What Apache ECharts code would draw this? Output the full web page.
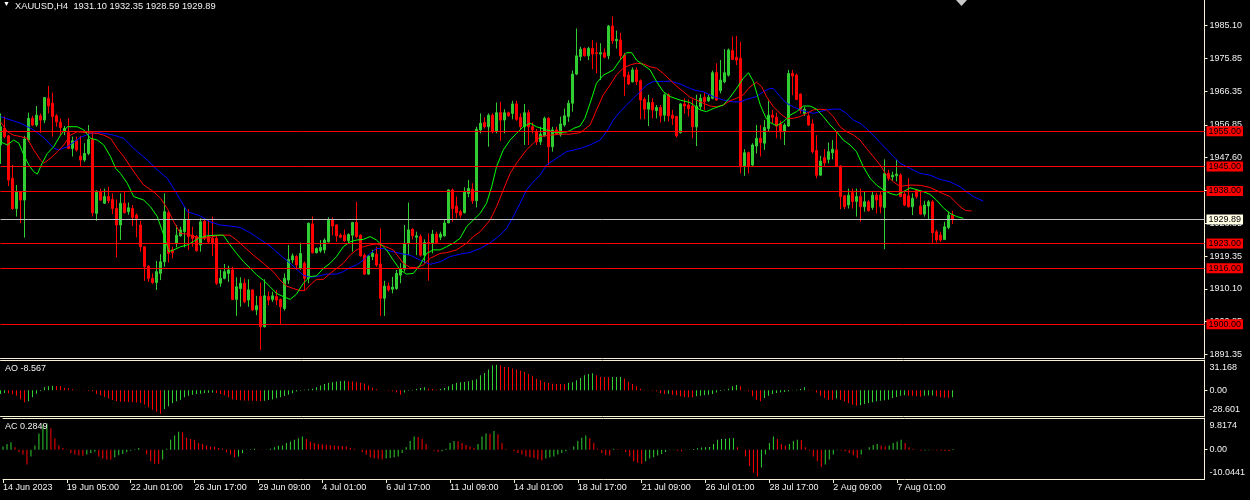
<!DOCTYPE html>
<html>
<head>
<meta charset="utf-8">
<script src="https://cdn.jsdelivr.net/npm/echarts@6/dist/echarts.min.js"></script>
<style>
html,body{margin:0;padding:0;background:#000;}
#c{width:1250px;height:500px;}
</style>
</head>
<body>
<div id="c"></div>
<script>
const symbolName = 'XAUUSD,H4';

const xTickLabels = ['14 Jun 2023','19 Jun 05:00','22 Jun 01:00','26 Jun 17:00','29 Jun 09:00','4 Jul 01:00','6 Jul 17:00','11 Jul 09:00','14 Jul 01:00','18 Jul 17:00','21 Jul 09:00','26 Jul 01:00','28 Jul 17:00','2 Aug 09:00','7 Aug 01:00'];

const priceTicks = [1891.35,1900.85,1910.10,1919.35,1928.85,1938.10,1947.60,1956.85,1966.35,1975.85,1985.10];

const levelLines = [1955.00,1945.00,1938.00,1923.00,1916.00,1900.00];

const opens = [1951.1,1955.9,1953.7,1941.6,1933.0,1937.8,1935.4,1952.5,1958.7,1956.8,1959.4,1958.2,1964.4,1963.0,1959.4,1957.6,1954.9,1954.6,1950.1,1952.3,
1947.9,1946.8,1948.7,1952.7,1931.6,1937.8,1934.5,1936.4,1935.6,1933.0,1928.3,1934.5,1932.1,1933.0,1931.1,1928.3,1922.1,1916.6,1913.1,1911.9,
1914.5,1917.8,1931.8,1921.2,1923.1,1925.2,1926.4,1929.9,1925.4,1925.0,1922.6,1929.4,1925.0,1924.5,1924.5,1911.7,1913.1,1914.5,1915.5,1907.1,
1910.2,1911.7,1906.9,1909.8,1904.1,1907.9,1899.3,1907.9,1907.1,1907.9,1907.1,1904.5,1912.6,1918.3,1919.3,1916.0,1917.4,1913.1,1928.6,1920.4,
1920.9,1921.2,1923.5,1929.7,1928.3,1925.4,1925.4,1923.8,1925.4,1929.0,1925.4,1919.7,1914.3,1919.3,1920.0,1917.2,1907.4,1910.9,1910.0,1910.2,
1914.0,1915.7,1923.1,1927.1,1924.8,1925.0,1919.7,1923.3,1923.1,1925.7,1924.8,1925.2,1928.9,1938.3,1933.7,1932.1,1931.8,1937.3,1938.5,1935.2,
1955.4,1957.5,1956.3,1959.6,1954.9,1960.3,1958.2,1960.3,1960.1,1962.8,1959.0,1956.3,1960.3,1956.3,1955.0,1952.0,1953.7,1958.7,1950.6,1955.4,
1954.0,1956.8,1959.2,1963.0,1971.3,1976.3,1978.6,1976.5,1978.6,1977.4,1977.0,1977.4,1976.5,1985.0,1980.8,1981.0,1976.7,1971.0,1969.1,1972.5,
1969.4,1964.1,1961.3,1963.2,1960.9,1961.8,1959.6,1965.4,1959.6,1959.2,1954.6,1962.8,1962.5,1962.2,1956.3,1962.0,1964.7,1963.7,1964.4,1971.7,
1966.6,1969.1,1971.0,1978.0,1976.1,1975.8,1945.1,1948.9,1945.4,1950.8,1953.0,1951.6,1955.8,1959.6,1959.0,1957.1,1954.9,1956.5,1971.5,1971.0,
1965.6,1960.1,1959.4,1957.1,1949.5,1942.5,1947.5,1947.0,1948.9,1949.7,1945.1,1936.6,1934.0,1937.5,1935.0,1936.4,1933.5,1934.9,1933.3,1936.8,
1936.8,1933.3,1943.0,1942.0,1942.3,1942.5,1937.1,1936.6,1933.5,1938.2,1933.7,1931.4,1933.7,1934.9,1926.4,1925.4,1924.2,1927.6,1931.10];

const highs = [1960.1,1959.2,1954.0,1945.4,1939.7,1938.0,1953.7,1960.3,1959.4,1962.2,1960.1,1964.7,1967.9,1966.0,1959.9,1958.7,1956.5,1958.7,1953.5,1953.5,
1953.7,1951.6,1956.8,1954.9,1938.2,1938.7,1938.7,1939.2,1937.3,1935.6,1937.3,1937.8,1934.7,1934.0,1931.6,1929.5,1922.3,1916.8,1914.5,1918.1,
1920.0,1937.3,1932.1,1922.1,1928.3,1927.8,1933.5,1932.8,1927.8,1925.4,1930.2,1929.9,1929.7,1930.7,1925.4,1915.6,1917.2,1916.7,1916.4,1913.4,
1913.4,1913.1,1912.8,1910.0,1908.1,1911.9,1912.8,1909.3,1909.3,1909.8,1907.3,1914.5,1922.6,1920.2,1919.7,1923.3,1917.9,1929.0,1930.8,1921.9,
1924.0,1924.5,1930.5,1930.5,1928.5,1925.9,1927.0,1925.9,1929.2,1934.9,1925.7,1920.2,1919.7,1921.2,1922.1,1927.3,1912.4,1911.9,1913.5,1915.5,
1917.4,1928.3,1934.7,1927.4,1926.4,1925.7,1924.2,1925.9,1926.9,1926.4,1926.4,1929.7,1938.5,1938.7,1936.4,1932.6,1939.0,1941.1,1940.2,1956.3,
1960.1,1959.0,1960.1,1960.1,1963.2,1963.4,1961.3,1960.6,1963.7,1963.7,1960.1,1962.8,1961.1,1957.5,1955.6,1956.3,1959.2,1959.0,1956.3,1956.3,
1959.2,1961.5,1963.9,1972.3,1984.3,1979.1,1978.9,1979.1,1981.0,1980.3,1980.1,1978.6,1985.3,1987.7,1983.7,1983.1,1977.4,1972.0,1973.2,1973.2,
1969.8,1964.7,1965.4,1964.4,1962.5,1962.5,1965.8,1965.8,1961.1,1959.4,1963.0,1964.4,1964.1,1964.1,1965.4,1965.6,1966.0,1965.4,1972.3,1974.4,
1975.3,1978.4,1978.6,1982.0,1982.2,1980.5,1949.9,1949.2,1951.6,1956.8,1956.8,1958.2,1963.7,1961.1,1960.3,1958.0,1957.3,1972.5,1972.5,1971.5,
1965.8,1962.0,1960.1,1958.4,1953.9,1948.0,1949.9,1951.8,1952.5,1954.9,1945.3,1936.8,1938.7,1938.7,1938.7,1938.7,1937.8,1935.4,1937.8,1937.5,
1937.8,1947.0,1944.0,1943.5,1947.0,1943.0,1937.8,1941.6,1937.3,1938.6,1937.8,1935.2,1935.4,1935.4,1926.9,1926.4,1929.2,1932.1,1932.35];

const lows = [1945.7,1953.0,1939.4,1932.6,1930.7,1928.8,1924.7,1952.0,1956.5,1956.3,1954.6,1957.3,1960.1,1953.5,1956.3,1953.9,1953.9,1949.9,1947.8,1949.2,
1945.1,1946.3,1948.2,1930.7,1929.5,1935.2,1934.3,1934.5,1931.4,1919.1,1924.0,1931.6,1931.2,1928.0,1924.8,1920.7,1912.4,1912.1,1911.5,1909.8,
1912.6,1916.4,1917.6,1918.8,1921.9,1925.0,1921.9,1921.2,1922.1,1920.7,1920.7,1924.0,1923.1,1919.5,1911.2,1910.7,1912.8,1912.1,1906.9,1902.4,
1905.0,1906.0,1905.0,1903.9,1902.6,1892.7,1899.1,1905.5,1906.4,1905.5,1900.1,1903.9,1911.5,1917.4,1915.5,1915.5,1909.8,1911.7,1920.2,1920.2,
1920.4,1920.2,1923.3,1925.4,1923.5,1924.5,1923.5,1923.1,1920.7,1924.5,1919.3,1914.1,1914.1,1918.3,1916.4,1902.4,1902.4,1909.3,1908.8,1909.8,
1911.7,1915.0,1919.7,1924.2,1919.7,1919.3,1917.4,1912.4,1920.2,1923.1,1924.0,1925.0,1928.8,1929.2,1930.2,1930.2,1931.6,1936.2,1934.3,1933.3,
1954.4,1955.8,1950.6,1954.4,1954.4,1952.3,1954.4,1959.2,1958.4,1958.0,1955.6,1951.1,1951.1,1954.4,1951.1,1951.1,1953.5,1945.4,1949.2,1953.9,
1953.5,1956.3,1957.7,1960.6,1971.0,1975.1,1976.3,1975.3,1972.7,1971.5,1969.6,1975.8,1975.5,1979.9,1978.6,1975.5,1965.1,1968.2,1968.9,1968.2,
1958.4,1958.4,1956.5,1958.7,1958.7,1957.5,1957.8,1957.8,1956.8,1953.3,1954.4,1960.1,1959.2,1953.0,1950.8,1961.1,1961.1,1963.4,1964.1,1963.7,
1965.8,1968.7,1970.6,1975.3,1973.9,1943.0,1942.3,1943.0,1944.9,1948.7,1947.8,1949.7,1954.9,1957.3,1953.0,1952.7,1951.1,1956.3,1965.3,1963.9,
1960.1,1959.4,1956.5,1948.7,1941.6,1942.3,1945.1,1945.9,1947.0,1944.9,1932.8,1932.8,1933.0,1933.0,1930.7,1929.2,1932.1,1932.1,1932.6,1931.6,
1931.6,1921.4,1940.9,1940.9,1940.7,1936.2,1933.7,1933.3,1931.1,1935.8,1931.1,1930.7,1929.9,1922.9,1923.3,1923.5,1924.0,1927.1,1928.59];

const closes = [1956.3,1953.5,1941.1,1933.0,1937.8,1935.4,1952.8,1958.7,1956.8,1959.6,1958.2,1964.6,1962.2,1959.2,1957.7,1956.1,1955.8,1950.1,1952.3,1949.7,
1946.8,1948.7,1952.7,1931.8,1938.0,1935.4,1936.4,1935.2,1933.0,1928.3,1934.5,1931.8,1933.2,1930.5,1930.2,1922.1,1916.4,1913.1,1911.9,1915.0,
1917.8,1932.1,1920.2,1920.4,1925.4,1926.9,1929.9,1925.0,1924.5,1921.0,1929.2,1924.5,1923.5,1923.1,1911.7,1913.1,1915.0,1915.5,1907.1,1910.7,
1911.7,1906.4,1909.8,1904.1,1905.3,1899.3,1908.1,1906.9,1908.1,1906.9,1905.0,1913.1,1918.5,1919.5,1916.9,1920.2,1913.1,1928.8,1920.4,1921.6,
1921.9,1924.0,1929.7,1928.0,1925.2,1924.8,1923.8,1925.6,1929.0,1925.0,1919.5,1914.3,1919.5,1920.2,1916.9,1907.4,1910.9,1909.8,1910.6,1914.5,
1915.9,1923.1,1926.9,1925.2,1925.2,1919.7,1923.3,1923.1,1925.7,1923.3,1925.7,1928.9,1938.3,1933.0,1931.8,1931.1,1937.8,1938.7,1935.2,1955.6,
1957.3,1956.3,1959.6,1954.9,1960.3,1958.2,1960.3,1959.4,1962.8,1958.4,1956.3,1960.3,1956.3,1955.4,1952.0,1954.2,1958.7,1950.6,1955.4,1954.2,
1957.1,1959.4,1963.0,1971.3,1976.5,1978.4,1976.5,1978.6,1977.0,1977.2,1977.4,1976.1,1985.0,1980.8,1981.2,1976.5,1970.6,1968.5,1972.5,1969.1,
1963.9,1961.3,1963.2,1961.1,1961.8,1959.4,1965.4,1959.4,1958.7,1953.7,1962.8,1962.2,1961.5,1956.3,1962.2,1964.4,1963.4,1964.7,1971.7,1963.9,
1969.6,1971.7,1978.2,1975.5,1975.3,1944.9,1948.9,1945.1,1951.1,1953.0,1951.8,1956.1,1959.6,1959.0,1956.5,1954.9,1956.8,1971.5,1970.8,1964.1,
1960.9,1961.3,1956.8,1949.2,1942.5,1946.5,1946.0,1949.2,1949.9,1945.1,1936.4,1933.5,1936.8,1935.0,1936.4,1933.5,1934.9,1932.4,1936.8,1935.4,
1933.5,1943.0,1941.6,1942.5,1942.8,1936.4,1934.0,1933.5,1935.9,1936.4,1931.4,1934.0,1934.9,1926.1,1924.0,1924.0,1927.8,1931.1,1929.89];

// Alligator lines: [bar position, price]
const jawBlue = [[0,1959.2],[5,1957.3],[8.3,1955.4],[11,1953.0],[13.3,1950.2],[14.6,1949.7],[16.7,1950.6],[20,1953.3],[22.5,1954.4],[25,1954.6],[28.3,1953.9],[30.8,1953.0],[33.3,1950.1],[36.7,1946.8],[39.2,1944.0],[41.7,1941.6],[43.3,1938.7],[45,1935.4],[46.7,1932.1],[49.9,1930.9],[52.4,1929.2],[54.9,1928.3],[57.4,1928.0],[59.9,1927.6],[62.4,1926.1],[64.9,1924.2],[67.4,1922.3],[69.9,1919.7],[72.4,1917.4],[74,1915.7],[75.7,1914.0],[77.4,1913.4],[79,1913.6],[81.5,1914.3],[84,1914.3],[85.7,1915.0],[87.4,1916.2],[89,1916.9],[90.7,1918.3],[92.4,1920.2],[94,1921.6],[95.7,1921.6],[97.4,1920.9],[99.9,1920.2],[102.4,1919.7],[104.9,1918.3],[107.4,1917.1],[109.9,1917.8],[112.4,1919.3],[114.9,1920.0],[117.4,1920.5],[119.9,1921.6],[122.4,1923.2],[124.9,1925.4],[126.5,1927.3],[128.2,1930.7],[129.9,1934.5],[131.5,1938.3],[133.2,1940.6],[134.9,1942.5],[136.5,1945.4],[139,1947.3],[141.5,1949.2],[144.9,1950.1],[147.4,1951.1],[149.9,1952.5],[151.5,1954.9],[153.2,1958.2],[154.9,1960.6],[156.5,1962.5],[158.2,1964.4],[159.9,1966.3],[161.5,1968.2],[163.2,1969.2],[165.7,1969.2],[167.4,1969.3],[169.9,1968.5],[172.4,1967.2],[174,1966.6],[175.7,1966.3],[178.2,1964.9],[180.7,1963.9],[183.2,1963.4],[184.9,1963.4],[186.5,1964.1],[189,1964.9],[190.7,1966.3],[192.4,1967.2],[193.2,1967.2],[194.9,1964.9],[196.5,1963.0],[198.2,1962.0],[199.9,1961.1],[201.5,1960.6],[203.2,1960.1],[204.9,1960.6],[206.5,1961.1],[208.2,1961.3],[209.9,1961.3],[211.5,1960.1],[213.2,1958.2],[214.9,1957.3],[216.5,1955.8],[218.2,1953.9],[219.9,1951.8],[221.5,1949.9],[223.2,1947.8],[224.9,1945.9],[227.4,1944.4],[229.9,1943.0],[232.4,1942.5],[234.9,1941.3],[237.4,1940.6],[239.9,1939.2],[241.5,1937.8],[243.2,1936.4],[245.7,1935.1]];

const teethRed = [[0,1957.7],[1.7,1954.9],[3.3,1953.9],[5,1953.5],[6.7,1953.0],[8.3,1949.7],[10,1946.8],[10.8,1945.9],[12.5,1947.3],[14.2,1949.2],[15.8,1951.1],[17.5,1953.9],[19.2,1954.9],[21.7,1954.6],[24.2,1954.4],[25.8,1953.9],[27.5,1953.0],[29.2,1950.1],[30.8,1947.8],[32.5,1944.9],[34.2,1942.1],[35.8,1939.7],[38.3,1937.8],[40,1935.9],[41.7,1933.0],[43.3,1929.2],[45,1925.9],[46.7,1925.7],[49.9,1924.5],[52.4,1924.8],[54.9,1925.4],[57.4,1925.4],[59,1924.0],[60.7,1922.3],[63.2,1919.7],[65.7,1917.4],[68.2,1915.0],[69.9,1912.6],[71.5,1910.9],[73.2,1910.2],[74.9,1909.6],[76.1,1909.6],[77.4,1911.2],[79,1912.8],[80.7,1912.8],[82.4,1914.5],[84,1915.9],[85.7,1917.4],[87.4,1919.7],[89,1921.2],[90.7,1922.1],[92.4,1922.6],[94,1922.9],[95.7,1922.4],[98.2,1921.2],[100.7,1917.4],[102.4,1916.2],[104,1916.2],[105.7,1916.9],[107.4,1918.8],[109.9,1920.2],[111.5,1920.4],[114,1921.2],[116.5,1923.1],[118.2,1925.0],[119.9,1926.4],[122.4,1929.7],[124,1933.5],[125.7,1938.3],[127.4,1943.0],[129,1945.9],[131.5,1949.7],[133.2,1951.6],[134.9,1953.5],[137.4,1953.9],[139.9,1954.2],[142.4,1954.2],[144.9,1954.6],[147.4,1956.8],[149,1961.1],[150.7,1965.4],[152.4,1968.2],[154,1971.1],[155.7,1973.0],[157.4,1973.9],[159,1974.4],[160.7,1974.2],[162.4,1973.4],[164,1973.0],[165.7,1971.5],[167.4,1969.6],[169,1967.9],[170.7,1966.3],[172.4,1964.7],[174,1963.9],[175.7,1963.0],[177.4,1962.2],[179,1962.0],[180.7,1962.5],[182.4,1963.7],[184,1964.4],[185.7,1965.4],[187.4,1967.7],[189,1969.0],[190.3,1967.7],[191.5,1964.9],[193.2,1962.0],[194.9,1960.1],[196.5,1958.7],[198.2,1958.7],[199.9,1959.2],[201.5,1960.1],[203.2,1961.1],[204.9,1961.3],[206.5,1961.1],[208.2,1959.2],[209.9,1956.3],[211.5,1954.9],[213.2,1954.0],[214.9,1952.5],[216.5,1950.1],[218.2,1947.8],[219.9,1945.4],[221.5,1942.5],[223.2,1940.6],[224.9,1939.3],[227.4,1939.7],[229.9,1939.6],[232.4,1939.0],[234.9,1937.6],[237.4,1936.4],[239,1934.5],[240.7,1932.8],[241.5,1932.4],[242.8,1932.3]];

const lipsGreen = [[0,1952.0],[1.7,1951.1],[3.3,1952.5],[4.6,1951.6],[5.8,1948.3],[7.1,1945.4],[8.3,1943.5],[9.2,1942.8],[10.4,1945.9],[11.7,1948.7],[13.3,1950.6],[15,1953.9],[16.7,1956.3],[19.2,1956.3],[20.8,1955.4],[22.5,1953.0],[24.2,1952.5],[25.8,1951.1],[27.5,1947.8],[28.8,1944.4],[30,1943.0],[31.7,1940.2],[33.3,1936.4],[35.8,1935.4],[37.5,1933.5],[39.2,1930.7],[40.8,1925.4],[42.1,1920.7],[43.3,1921.2],[45,1922.1],[46.7,1922.6],[48.3,1923.6],[49.5,1924.5],[51.5,1925.2],[54,1925.4],[55.7,1925.4],[57.4,1922.6],[59,1920.2],[60.7,1917.9],[62.4,1916.0],[64,1914.1],[65.7,1912.6],[67.4,1910.7],[69,1908.8],[70.7,1907.9],[72.4,1907.1],[74,1908.6],[75.7,1911.7],[77.4,1913.6],[79,1913.8],[80.7,1915.9],[82.4,1917.4],[84,1919.3],[85.7,1922.1],[87.4,1923.5],[89,1924.0],[90.7,1924.2],[92.4,1925.0],[94,1924.0],[95.7,1922.1],[96.5,1921.2],[98.2,1918.3],[99.9,1915.5],[101.5,1914.3],[103.2,1914.5],[104.9,1916.9],[106.5,1920.2],[108.2,1921.2],[109.9,1921.2],[111.5,1922.1],[113.2,1923.1],[114.9,1924.5],[116.5,1927.8],[118.2,1929.7],[119.9,1931.6],[121.5,1934.5],[122.8,1939.2],[124,1944.9],[125.7,1949.7],[127.4,1952.5],[129,1954.4],[130.7,1956.3],[132.4,1957.3],[134,1956.3],[136.5,1955.4],[139,1954.6],[141.5,1954.8],[142.4,1955.2],[143.2,1955.8],[144.9,1956.5],[146.1,1958.7],[147.4,1963.0],[149,1968.7],[150.7,1971.0],[153.2,1972.5],[154.9,1975.3],[156.5,1977.4],[157.8,1977.4],[159,1975.3],[160.7,1973.9],[162.4,1972.5],[164,1969.2],[165.7,1966.3],[167.4,1964.9],[169.9,1963.9],[172.4,1963.2],[174.9,1961.1],[176.5,1960.6],[178.2,1961.5],[180.7,1962.5],[182.4,1964.7],[184,1967.2],[185.7,1970.1],[187,1971.7],[188.2,1969.2],[189.9,1962.7],[190.7,1960.5],[191.5,1958.5],[192.4,1957.5],[194,1956.6],[195.7,1957.7],[197.4,1959.6],[199,1960.6],[200.7,1962.2],[202.4,1962.2],[204,1961.3],[205.7,1959.2],[207.4,1956.8],[209,1954.9],[210.7,1952.5],[212.4,1951.1],[214,1949.2],[215.7,1944.9],[217.4,1941.6],[219,1939.7],[220.7,1938.3],[222.4,1937.3],[224,1936.8],[225.7,1937.8],[227.4,1938.9],[229,1938.4],[230.7,1937.8],[232.4,1937.0],[234,1935.4],[235.7,1933.2],[237.4,1931.6],[239,1930.7],[240.7,1930.2]];

const aoValues = [-4.5,-3.2,-3.6,-4.8,-6.5,-11.0,-14.6,-13.4,-8.5,-4.1,-0.8,3.7,5.0,5.4,5.2,4.9,3.2,2.4,1.2,0.4,
0.1,-0.3,-0.6,-1.2,-4.5,-6.1,-8.1,-9.7,-11.8,-13.0,-13.8,-14.0,-14.2,-14.5,-14.7,-15.4,-17.4,-20.7,-23.8,-26.2,
-28.601,-22.7,-19.5,-15.8,-13.4,-11.4,-8.5,-6.5,-5.3,-4.5,-4.1,-3.4,-3.0,-2.8,-3.2,-4.5,-6.1,-8.5,-11.0,-11.8,
-12.1,-12.3,-12.5,-12.6,-12.8,-13.4,-12.6,-11.8,-11.2,-9.7,-8.5,-6.9,-5.3,-3.7,-1.6,-0.4,0.8,1.2,2.0,3.7,
5.7,7.7,8.9,9.7,10.6,11.2,11.5,11.0,10.6,10.1,9.3,8.1,5.7,3.2,1.2,0.2,-0.2,-0.4,-1.2,-2.8,
-5.3,-2.8,-0.4,0.8,1.6,2.8,3.7,2.0,1.6,0.8,1.6,2.8,4.9,7.3,8.9,9.7,10.1,11.0,12.2,13.4,
18.3,21.1,25.2,30.4,31.168,30.4,28.4,28.0,26.4,25.2,23.9,22.3,19.9,17.0,14.2,12.2,10.1,8.9,7.9,7.7,
7.6,7.5,8.9,9.7,12.2,15.0,18.3,19.9,20.7,18.3,16.6,16.2,16.0,16.1,16.2,16.3,14.2,10.1,7.7,4.9,
2.0,0.4,-0.1,-0.4,-1.2,-3.2,-4.5,-4.1,-5.3,-6.1,-7.3,-8.1,-8.5,-8.6,-7.3,-6.5,-6.1,-5.3,-4.5,-2.8,
-0.8,0.8,2.0,4.9,6.5,4.9,-0.2,-1.2,-7.3,-11.4,-13.4,-9.3,-6.5,-4.5,-3.2,-2.4,-2.0,-1.2,-0.1,0.8,
1.6,3.7,0.8,-0.1,-2.8,-6.5,-9.3,-11.4,-11.5,-10.1,-11.4,-13.4,-15.4,-17.4,-18.7,-18.3,-16.6,-15.4,-14.6,-13.4,
-12.6,-12.2,-11.4,-9.3,-8.1,-6.5,-6.1,-6.5,-6.6,-7.3,-7.7,-6.5,-6.4,-6.3,-7.3,-8.5,-8.8,-9.0,-8.567];

const acValues = [1.2,2.1,2.8,0.9,-0.9,-1.8,-5.5,-2.5,1.6,6.1,9.3,9.8174,8.0,4.3,1.6,0.6,0.2,-1.2,-1.8,-2.2,
-2.3,-1.8,-1.2,-0.8,-2.5,-3.3,-3.7,-3.8,-2.8,-2.1,-1.6,-0.9,-0.4,0.2,0.6,-0.1,-1.8,-4.3,-5.3,-5.4,
-3.7,0.4,3.7,5.3,6.7,6.5,4.5,4.0,3.7,2.5,2.1,1.6,1.2,1.1,0.6,0.4,-1.0,-1.8,-2.8,-2.5,
-1.2,-0.1,0.2,0.4,0.1,-0.1,0.05,0.4,0.9,1.5,1.6,2.5,3.1,3.7,4.3,4.9,4.0,3.1,2.5,2.1,
2.0,1.9,1.8,1.6,1.5,1.4,1.2,0.6,0.4,0.0,-0.9,-1.8,-2.8,-3.3,-3.4,-3.7,-3.3,-3.1,-2.8,-2.5,
-1.2,0.9,3.3,4.9,4.8,4.0,2.1,0.0,-0.4,-0.9,-0.6,0.4,2.5,3.3,3.2,2.5,1.8,1.2,0.6,2.1,
4.9,6.1,6.0,7.0,5.8,2.5,0.3,-0.05,-0.6,-1.2,-1.8,-2.5,-2.8,-3.1,-3.7,-4.0,-3.3,-2.8,-2.5,-1.8,
-1.2,-0.6,-0.1,1.2,3.3,4.5,5.3,4.3,2.5,0.4,-1.2,-2.1,-2.2,0.4,0.3,-0.1,-0.9,-2.5,-4.3,-4.9,
-5.3,-4.3,-3.3,-2.8,-2.2,-1.6,-0.9,-0.1,0.1,-0.4,-0.6,-0.1,0.1,0.3,0.5,0.8,0.9,1.0,2.1,3.7,
4.0,4.1,4.3,4.4,0.9,-0.05,-2.5,-6.1,-8.6,-10.0441,-6.7,-1.8,2.5,4.9,4.0,2.1,1.6,2.1,3.3,3.7,
3.6,0.9,-0.4,-2.5,-4.3,-6.5,-5.5,-3.7,-1.8,-0.2,-0.3,-0.6,-1.2,-2.1,-3.1,-1.8,-0.1,0.9,1.8,2.1,
1.6,1.2,1.6,2.5,3.1,3.7,2.5,0.9,0.4,-0.1,-0.4,-0.3,-0.2,-0.25,-0.3,-0.4,-0.45,-0.5,0.2849];

// ---------- build ----------
const FONT = "'Liberation Sans', Arial, sans-serif";
const CREAM = '#F6F0D4';
const TXT = '#F2F2F2';
const BULL = '#32CD32';
const BEAR = '#FF0000';
const N = 302;
const last = closes.length - 1;

const categories = Array.from({length: N}, (_, i) =>
  (i % 16 === 0 && i / 16 < xTickLabels.length) ? xTickLabels[i / 16] : String(i));
const isTick = (i) => i % 16 === 0 && i / 16 < xTickLabels.length;

const candleData = opens.map((o, i) => [o, closes[i], lows[i], highs[i]]);
const histo = (arr) => arr.map((v, i) => ({
  value: v,
  itemStyle: { color: (i === 0 || v > arr[i - 1]) ? BULL : BEAR }
}));

const aoMax = Math.max(...aoValues), aoMin = Math.min(...aoValues);
const acMax = Math.max(...acValues), acMin = Math.min(...acValues);

const titleText = symbolName + '  ' + [opens[last], highs[last], lows[last], closes[last]].map(v => v.toFixed(2)).join(' ');

const baseX = (grid, pos) => ({
  type: 'category', gridIndex: grid, data: categories, boundaryGap: false, position: pos,
  axisLine: { show: true, onZero: false, lineStyle: { color: CREAM, width: 1 } },
  axisTick: { show: false }, axisLabel: { show: false }, splitLine: { show: false }
});

const txtStyle = { color: TXT, fontSize: 9, fontFamily: FONT };

const lvlLabel = (bg) => ({ show: true, position: 'end', distance: 2, formatter: p => p.value.toFixed(2),
  color: '#000000', backgroundColor: bg, padding: [0, 2, 0, 2], lineHeight: 10,
  fontSize: 9, fontFamily: FONT });

const levelData = levelLines.map(v => ({
  yAxis: v,
  lineStyle: { color: '#FF0000', width: 1, type: 'solid' },
  label: lvlLabel('#FF0000')
}));
levelData.push({
  yAxis: closes[last],
  lineStyle: { color: '#C0C0C0', width: 1, type: 'solid' },
  label: lvlLabel('#FFFDE2')
});

const chart = echarts.init(document.getElementById('c'), null, { renderer: 'canvas' });
chart.setOption({
  backgroundColor: '#000000',
  animation: false,
  title: [
    { text: '▼', left: 3, top: 1, padding: 0, textStyle: { color: '#FFFFFF', fontSize: 7, fontWeight: 'normal' } },
    { text: titleText, left: 15, top: 2, padding: 0, textStyle: Object.assign({}, txtStyle, { fontWeight: 'normal', fontSize: 9.3 }) },
    { text: 'AO ' + aoValues[last], left: 5, top: 364, padding: 0, textStyle: Object.assign({ fontWeight: 'normal' }, txtStyle) },
    { text: 'AC ' + acValues[last], left: 5, top: 422, padding: 0, textStyle: Object.assign({ fontWeight: 'normal' }, txtStyle) }
  ],
  grid: [
    { left: 0.5, right: 45.5, top: 0, height: 358 },
    { left: 0.5, right: 45.5, top: 360, height: 56 },
    { left: 0.5, right: 45.5, top: 418, height: 61 }
  ],
  xAxis: [
    baseX(0, 'bottom'),
    baseX(1, 'bottom'),
    Object.assign(baseX(2, 'bottom'), {
      axisTick: { show: true, interval: (i) => isTick(i), length: 4, lineStyle: { color: CREAM } },
      axisLabel: Object.assign({ show: true, interval: (i) => isTick(i), align: 'left', margin: 4 }, txtStyle)
    }),
    baseX(1, 'top'),
    baseX(2, 'top'),
    { type: 'value', gridIndex: 0, min: 0, max: N - 1, show: false }
  ],
  yAxis: [
    { type: 'value', gridIndex: 0, position: 'right', min: 1890.395, max: 1992.42,
      splitLine: { show: false },
      axisLine: { show: true, onZero: false, lineStyle: { color: CREAM } },
      axisTick: { show: true, customValues: priceTicks, length: 3, lineStyle: { color: CREAM } },
      axisLabel: Object.assign({ customValues: priceTicks, formatter: v => v.toFixed(2), margin: 5 }, txtStyle) },
    { type: 'value', gridIndex: 1, position: 'right', min: -31.28, max: 36.88,
      splitLine: { show: false },
      axisLine: { show: true, onZero: false, lineStyle: { color: CREAM } },
      axisTick: { show: true, customValues: [0], length: 3, lineStyle: { color: CREAM } },
      axisLabel: Object.assign({ customValues: [aoMax, 0, aoMin], margin: 5,
        formatter: v => v === aoMax ? '{t|' + v.toFixed(3) + '}' : (v === aoMin ? '{b|' + v.toFixed(3) + '}' : '0.00'),
        rich: { t: Object.assign({ padding: [6, 0, 0, 0] }, txtStyle), b: Object.assign({ padding: [0, 0, 8, 0] }, txtStyle) } }, txtStyle) },
    { type: 'value', gridIndex: 2, position: 'right', min: -10.97, max: 11.87,
      splitLine: { show: false },
      axisLine: { show: true, onZero: false, lineStyle: { color: CREAM } },
      axisTick: { show: true, customValues: [0], length: 3, lineStyle: { color: CREAM } },
      axisLabel: Object.assign({ customValues: [acMax, 0, acMin], margin: 5,
        formatter: v => v === acMax ? '{t|' + v.toFixed(4) + '}' : (v === acMin ? '{b|' + v.toFixed(4) + '}' : '0.00'),
        rich: { t: Object.assign({ padding: [4, 0, 0, 0] }, txtStyle), b: Object.assign({ padding: [0, 0, 9, 0] }, txtStyle) } }, txtStyle) }
  ],
  graphic: [
    { type: 'polygon', shape: { points: [[956, 0], [967, 0], [961.5, 6]] }, style: { fill: '#C8C8C8' }, silent: true }
  ],
  series: [
    { type: 'candlestick', xAxisIndex: 0, yAxisIndex: 0, data: candleData, barWidth: 2, zlevel: 1, z: 2,
      itemStyle: { color: BULL, color0: BEAR, borderColor: BULL, borderColor0: BEAR, borderWidth: 1 },
      emphasis: { disabled: true }, silent: true,
      markLine: { silent: true, symbol: ['none', 'none'], animation: false, zlevel: 1, z: 20, data: levelData } },
    { type: 'line', name: 'jaw', xAxisIndex: 5, yAxisIndex: 0, data: jawBlue, showSymbol: false, symbol: 'none',
      lineStyle: { color: '#0000FF', width: 1 }, silent: true, zlevel: 1, z: 3 },
    { type: 'line', name: 'teeth', xAxisIndex: 5, yAxisIndex: 0, data: teethRed, showSymbol: false, symbol: 'none',
      lineStyle: { color: '#FF0000', width: 1 }, silent: true, zlevel: 1, z: 3 },
    { type: 'line', name: 'lips', xAxisIndex: 5, yAxisIndex: 0, data: lipsGreen, showSymbol: false, symbol: 'none',
      lineStyle: { color: '#00FF00', width: 1 }, silent: true, zlevel: 1, z: 3 },
    { type: 'bar', xAxisIndex: 1, yAxisIndex: 1, data: histo(aoValues), barWidth: 1, silent: true },
    { type: 'bar', xAxisIndex: 2, yAxisIndex: 2, data: histo(acValues), barWidth: 1, silent: true }
  ]
});
</script>
</body>
</html>
